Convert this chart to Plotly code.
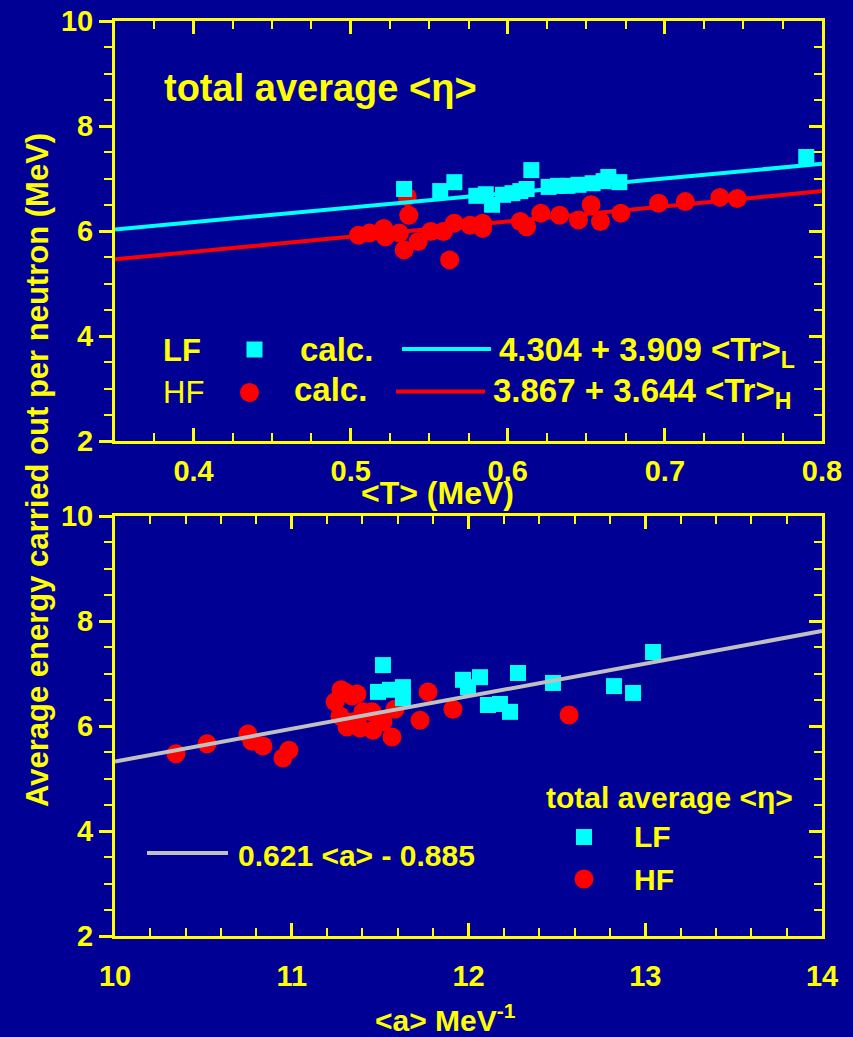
import plotly.graph_objects as go

W, H = 853, 1037
NAVY = "#000094"
YEL = "#FFFF00"
CYAN = "#00FFFF"
RED = "#FF0000"
GRAY = "#C0C0C0"
FONT = "Liberation Sans"

# ---- upper panel: <eta> against <T> ----
T_LF = [0.534, 0.557, 0.566, 0.580, 0.586, 0.590, 0.597, 0.603, 0.608, 0.615,
        0.612, 0.626, 0.632, 0.638, 0.645, 0.654, 0.661, 0.664, 0.671, 0.790]
eta_T_LF = [6.80, 6.76, 6.93, 6.67, 6.70, 6.50, 6.69, 6.72, 6.76, 7.16,
            6.80, 6.84, 6.86, 6.86, 6.88, 6.91, 6.95, 7.03, 6.93, 7.41]
T_HF = [0.505, 0.512, 0.521, 0.522, 0.531, 0.536, 0.537, 0.534, 0.543, 0.551,
        0.559, 0.566, 0.576, 0.584, 0.584, 0.608, 0.612, 0.621, 0.633, 0.645,
        0.653, 0.659, 0.672, 0.696, 0.713, 0.735, 0.746, 0.563]
eta_T_HF = [5.92, 5.96, 6.05, 5.89, 5.96, 6.65, 6.30, 5.64, 5.80, 5.99,
            5.99, 6.15, 6.11, 6.15, 6.05, 6.18, 6.08, 6.34, 6.30, 6.21,
            6.50, 6.18, 6.34, 6.53, 6.56, 6.64, 6.62, 5.45]
T_fit = [0.35, 0.80]
eta_fit_LF = [6.03, 7.28]
eta_fit_HF = [5.46, 6.76]

# ---- lower panel: <eta> against <a> ----
a_LF = [11.516, 11.488, 11.556, 11.629, 11.629, 11.969, 11.997, 12.065,
        12.280, 12.478, 12.823, 12.931, 13.044, 12.110, 12.178, 12.235]
eta_a_LF = [7.16, 6.65, 6.69, 6.74, 6.53, 6.88, 6.74, 6.93,
            7.01, 6.82, 6.76, 6.63, 7.41, 6.40, 6.42, 6.27]
a_HF = [10.345, 10.521, 10.752, 10.775, 10.837, 10.950, 10.984, 11.245,
        11.279, 11.301, 11.341, 11.369, 11.273, 11.313, 11.347, 11.386,
        11.403, 11.454, 11.460, 11.516, 11.567, 11.584, 11.726, 11.771,
        11.912, 12.569]
eta_a_HF = [5.47, 5.66, 5.85, 5.71, 5.62, 5.39, 5.54, 6.46,
            6.69, 6.65, 6.57, 6.61, 6.19, 5.98, 6.08, 5.96,
            6.27, 6.27, 5.92, 6.08, 5.79, 6.32, 6.11, 6.65,
            6.32, 6.21]
a_fit = [10.0, 14.0]
fit_slope, fit_icpt = 0.621, -0.885
eta_fit_a = [fit_slope * a + fit_icpt for a in a_fit]

x_ticks_T = [0.4, 0.5, 0.6, 0.7, 0.8]
x_ticks_a = [10, 11, 12, 13, 14]
y_ticks = [2, 4, 6, 8, 10]

XDOM = [115 / W, 822 / W]
YDOM_TOP = [1 - 441 / H, 1 - 21 / H]
YDOM_BOT = [1 - 936 / H, 1 - 516 / H]

fig = go.Figure()

def pts(x, y, color, symbol, size, xa, ya):
    fig.add_trace(go.Scatter(x=x, y=y, mode="markers", xaxis=xa, yaxis=ya,
                             marker=dict(symbol=symbol, size=size, color=color,
                                         line=dict(width=0)),
                             showlegend=False, hoverinfo="skip"))

def fit(x, y, color, xa, ya):
    fig.add_trace(go.Scatter(x=x, y=y, mode="lines", xaxis=xa, yaxis=ya,
                             line=dict(color=color, width=4),
                             showlegend=False, hoverinfo="skip"))

pts(T_HF, eta_T_HF, RED, "circle", 19, "x", "y")
pts(T_LF, eta_T_LF, CYAN, "square", 16, "x", "y")
fit(T_fit, eta_fit_LF, CYAN, "x", "y")
fit(T_fit, eta_fit_HF, RED, "x", "y")

pts(a_HF, eta_a_HF, RED, "circle", 19, "x2", "y2")
pts(a_LF, eta_a_LF, CYAN, "square", 16, "x2", "y2")
fit(a_fit, eta_fit_a, GRAY, "x2", "y2")

# empty traces so the mirrored frame axes get drawn
for xa, ya in (("x3", "y3"), ("x4", "y4")):
    fig.add_trace(go.Scatter(x=[None], y=[None], xaxis=xa, yaxis=ya,
                             showlegend=False, hoverinfo="skip"))

tickfont = dict(family=FONT, size=29, color=YEL, weight="bold")

def axis(rng, dom, anchor, ticks, minor_dtick, tickvals=None, labels=True,
         side=None, overlaying=None, standoff=None):
    d = dict(range=rng, domain=dom, anchor=anchor, showline=True,
             linecolor=YEL, linewidth=3, ticks=ticks, ticklen=13, tickwidth=3,
             tickcolor=YEL, showgrid=False, zeroline=False, automargin=False,
             showticklabels=labels, tickfont=tickfont,
             minor=dict(ticks=ticks, ticklen=8, tickwidth=2, tickcolor=YEL,
                        dtick=minor_dtick, showgrid=False),
             fixedrange=True)
    if tickvals is not None:
        d["tickmode"] = "array"
        d["tickvals"] = tickvals
    if side:
        d["side"] = side
    if overlaying:
        d["overlaying"] = overlaying
    if standoff is not None:
        d["ticklabelstandoff"] = standoff
    return d

fig.update_layout(
    width=W, height=H,
    margin=dict(l=0, r=0, t=0, b=0, pad=0, autoexpand=False),
    paper_bgcolor=NAVY, plot_bgcolor=NAVY,
    showlegend=False,
    xaxis=axis([0.35, 0.8], XDOM, "y", "inside", 0.025, x_ticks_T, standoff=2),
    yaxis=axis([2, 10], YDOM_TOP, "x", "outside", 0.5, y_ticks),
    xaxis3=axis([0.35, 0.8], XDOM, "y3", "inside", 0.025, x_ticks_T,
                labels=False, side="top", overlaying="x"),
    yaxis3=axis([2, 10], YDOM_TOP, "x3", "inside", 0.5, y_ticks,
                labels=False, side="right", overlaying="y"),
    xaxis2=axis([10, 14], XDOM, "y2", "inside", 0.2, x_ticks_a, standoff=12),
    yaxis2=axis([2, 10], YDOM_BOT, "x2", "outside", 0.5, y_ticks),
    xaxis4=axis([10, 14], XDOM, "y4", "inside", 0.2, x_ticks_a,
                labels=False, side="top", overlaying="x2"),
    yaxis4=axis([2, 10], YDOM_BOT, "x4", "inside", 0.5, y_ticks,
                labels=False, side="right", overlaying="y2"),
)

def ann(text, px, py, size, xanchor="left", bold=True, angle=0):
    fig.add_annotation(text=text, x=px / W, y=1 - py / H, xref="paper",
                       yref="paper", xanchor=xanchor, yanchor="middle",
                       showarrow=False, textangle=angle,
                       font=dict(family=FONT, size=size, color=YEL,
                                 weight="bold" if bold else "normal"))

def rect(cx, cy, side, color):
    h = side / 2
    fig.add_shape(type="rect", xref="paper", yref="paper",
                  x0=(cx - h) / W, x1=(cx + h) / W,
                  y0=1 - (cy + h) / H, y1=1 - (cy - h) / H,
                  fillcolor=color, line=dict(width=0))

def disc(cx, cy, d, color):
    h = d / 2
    fig.add_shape(type="circle", xref="paper", yref="paper",
                  x0=(cx - h) / W, x1=(cx + h) / W,
                  y0=1 - (cy + h) / H, y1=1 - (cy - h) / H,
                  fillcolor=color, line=dict(width=0))

def seg(x0, x1, y, color):
    fig.add_shape(type="line", xref="paper", yref="paper",
                  x0=x0 / W, x1=x1 / W, y0=1 - y / H, y1=1 - y / H,
                  line=dict(color=color, width=4))

# axis titles
ann("Average energy carried out per neutron (MeV)", 37, 470, 31, "center", angle=-90)
ann("&lt;T&gt; (MeV)", 437, 493, 32, "center")
ann("&lt;a&gt; MeV<sup>-1</sup>", 445, 1018, 30, "center")

# upper panel labels
ann("total average &lt;η&gt;", 162, 88, 38)
ann("LF", 161, 351, 31)
ann("HF", 161, 392, 31, bold=False)
rect(254.5, 349.5, 16, CYAN)
disc(249.5, 392.5, 19, RED)
ann("calc.", 298, 349, 33)
ann("calc.", 292, 390, 33)
seg(402, 491, 349, CYAN)
seg(396, 485, 391.5, RED)
ann("4.304 + 3.909 &lt;Tr&gt;<sub>L</sub>", 497, 352, 33)
ann("3.867 + 3.644 &lt;Tr&gt;<sub>H</sub>", 491, 393, 33)

# lower panel labels
ann("total average &lt;η&gt;", 544, 797, 30)
rect(584, 837, 16, CYAN)
disc(584, 879, 19, RED)
ann("LF", 632, 836, 30)
ann("HF", 632, 879, 30)
seg(147, 228, 853, GRAY)
ann("0.621 &lt;a&gt; - 0.885", 236, 855, 30)

fig.write_html("out.html")
